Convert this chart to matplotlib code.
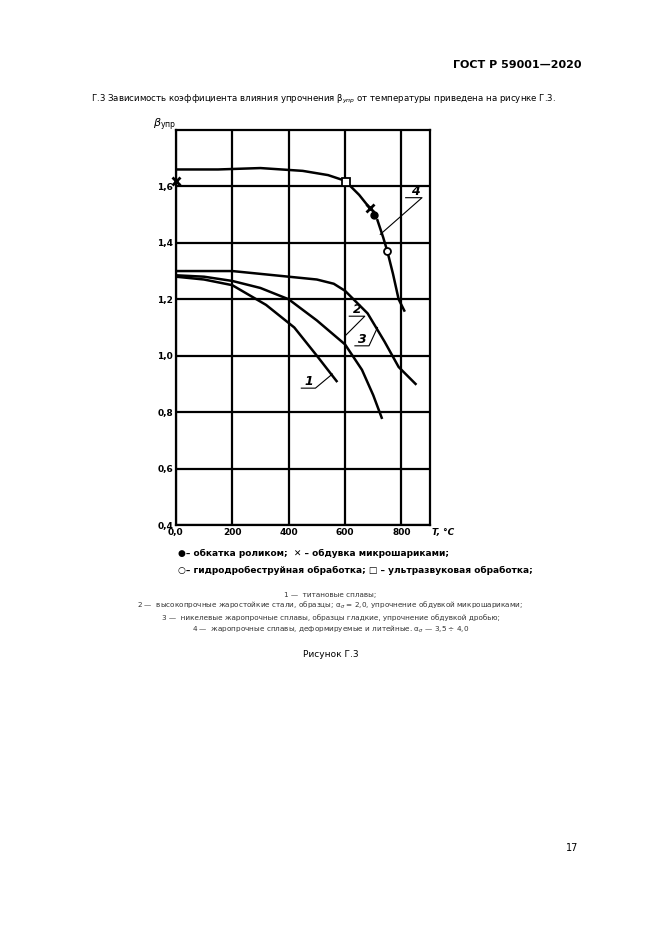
import matplotlib
matplotlib.use("Agg")
from matplotlib import pyplot as plt

# curve data (T in deg C, beta)
t1 = [0, 100, 200, 320, 420, 500, 570]
b1 = [1.28, 1.27, 1.25, 1.18, 1.10, 1.00, 0.91]
t2 = [0, 100, 200, 300, 400, 500, 600, 660, 700, 730]
b2 = [1.285, 1.28, 1.265, 1.24, 1.20, 1.125, 1.04, 0.95, 0.86, 0.78]
t3 = [0, 200, 400, 500, 560, 600, 680, 740, 790, 850]
b3 = [1.30, 1.30, 1.28, 1.27, 1.255, 1.23, 1.15, 1.05, 0.96, 0.90]
t4a = [0, 150, 300, 450, 540, 600, 650, 690]
b4a = [1.66, 1.66, 1.665, 1.655, 1.64, 1.62, 1.57, 1.52]
t4b = [715, 735, 750, 770, 790, 810]
b4b = [1.48, 1.42, 1.37, 1.29, 1.20, 1.16]

x_ticks = [0, 200, 400, 600, 800]
x_labels = ["0,0", "200", "400", "600", "800"]
y_ticks = [0.4, 0.6, 0.8, 1.0, 1.2, 1.4, 1.6]
y_labels = ["0,4", "0,6", "0,8", "1,0", "1,2", "1,4", "1,6"]

fig = plt.figure(figsize=(6.61, 9.35), dpi=100)
ax = fig.add_axes([0.266, 0.4385, 0.384, 0.4225])

for t, b in [(t1, b1), (t2, b2), (t3, b3), (t4a, b4a), (t4b, b4b)]:
    ax.plot(t, b, color="black", lw=1.8)

# markers
ax.plot([0, 690], [1.62, 1.525], "x", color="black", ms=6, mew=2, clip_on=False)
ax.plot([702], [1.5], "o", color="black", ms=5)
ax.plot([750], [1.37], "o", mfc="white", mec="black", ms=5, mew=1.3)
ax.plot([605], [1.615], "s", mfc="white", mec="black", ms=6, mew=1.3)

# curve numbers with leader lines
for lab, xy, xt, lx in [("1", (555, 0.935), (470, 0.885), 445),
                        ("2", (600, 1.07), (645, 1.14), 615),
                        ("3", (715, 1.1), (660, 1.035), 635),
                        ("4", (725, 1.43), (848, 1.56), 815)]:
    ax.text(xt[0], xt[1], lab, fontsize=9, fontweight="bold",
            fontstyle="italic", ha="center", va="bottom")
    ax.plot([lx, xt[0] + 25, xy[0]], [xt[1], xt[1], xy[1]], color="black", lw=0.8)

ax.set_xlim(0, 900)
ax.set_ylim(0.4, 1.8)
ax.set_xticks(x_ticks)
ax.set_xticklabels(x_labels, fontsize=6.5, fontweight="bold")
ax.set_yticks(y_ticks)
ax.set_yticklabels(y_labels, fontsize=6.5, fontweight="bold")
ax.tick_params(length=0, pad=2)
ax.grid(True, color="black", lw=1.6)
for s in ax.spines.values():
    s.set_linewidth(1.6)
ax.text(908, 0.39, "T, °C", fontsize=6.5, fontweight="bold", fontstyle="italic",
        ha="left", va="top")
ax.text(-80, 1.79, r"$\beta_{\mathrm{упр}}$", fontsize=8, ha="left", va="bottom")

fig.text(0.88, 0.927, "ГОСТ Р 59001—2020", fontsize=8, fontweight="bold", ha="right")
fig.text(0.137, 0.891, "Г.3 Зависимость коэффициента влияния упрочнения β$_{упр}$ от температуры приведена на рисунке Г.3.",
         fontsize=6.2, ha="left")
fig.text(0.27, 0.405, "●– обкатка роликом;  ✕ – обдувка микрошариками;", fontsize=6.5,
         fontweight="bold", ha="left")
fig.text(0.27, 0.387, "○– гидродробеструйная обработка; □ – ультразвуковая обработка;", fontsize=6.5,
         fontweight="bold", ha="left")
captions = ["1 —  титановые сплавы;",
            "2 —  высокопрочные жаростойкие стали, образцы; α$_σ$ = 2,0, упрочнение обдувкой микрошариками;",
            "3 —  никелевые жаропрочные сплавы, образцы гладкие, упрочнение обдувкой дробью;",
            "4 —  жаропрочные сплавы, деформируемые и литейные. α$_σ$ — 3,5 ÷ 4,0"]
for i, c in enumerate(captions):
    fig.text(0.5, 0.362 - i * 0.0125, c, fontsize=5.2, ha="center", color="#333333")
fig.text(0.5, 0.297, "Рисунок Г.3", fontsize=6.5, ha="center")
fig.text(0.875, 0.09, "17", fontsize=7, ha="right")

fig.savefig("out.png", dpi=100)
